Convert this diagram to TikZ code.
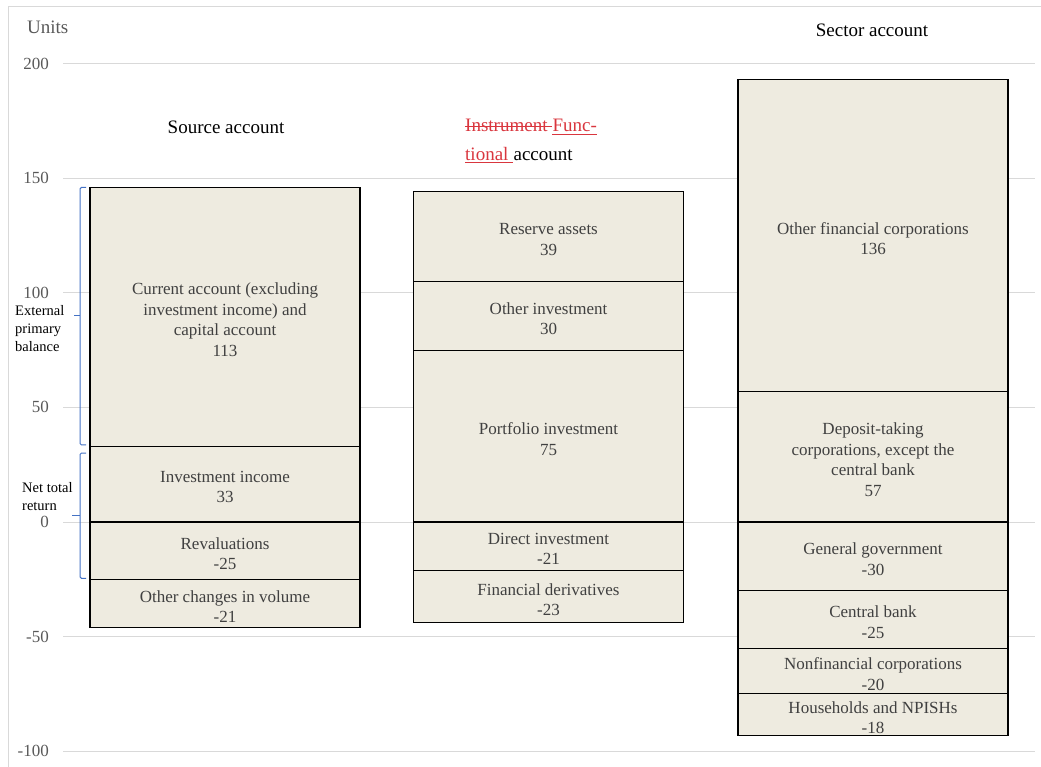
\documentclass[tikz,border=0pt]{standalone}
\usepackage{fontspec}
\setmainfont{Liberation Serif}
\usetikzlibrary{positioning}

\definecolor{segfill}{HTML}{EEEBE0}
\definecolor{segtext}{HTML}{404040}
\definecolor{ticktext}{HTML}{595959}
\definecolor{gridgray}{HTML}{D9D9D9}
\definecolor{bracecol}{HTML}{4472C4}
\definecolor{edred}{HTML}{D9363E}

\newcommand\segfont{\fontsize{17}{20.5}\selectfont}
\newcommand\headfont{\fontsize{19}{28}\selectfont}
\newcommand\sidefont{\fontsize{14.5}{18}\selectfont}

\tikzset{
  seg/.style={fill=segfill, minimum width=270pt, inner sep=0pt,
    outer sep=0pt, minimum height={#1*2.292pt}},
  segtxt/.style={text=segtext, font=\segfont, align=center, inner sep=0pt, yshift=-3pt},
  segline/.style={draw=black, line width=1.1pt},
  gridline/.style={draw=gridgray, line width=0.9pt},
  ticklabel/.style={anchor=east, text=ticktext, font=\segfont, inner sep=0pt},
  header/.style={font=\headfont, text=black, inner sep=0pt},
  redit/.style={header, text=edred},
  redline/.style={draw=edred, line width=0.9pt},
  bracket/.style={draw=bracecol, line width=1pt, rounded corners=1.5pt},
  sidelabel/.style={anchor=west, align=left, font=\sidefont, text=black, inner sep=0pt}
}

\begin{document}
\begin{tikzpicture}[x=1pt, y=2.292pt]
\useasboundingbox (0,-106.89) rectangle (1041,227.75);

% frame and grid
\draw[gridline] (8,-106.89) -- (8,225.1) -- (1041,225.1);
\foreach \v in {-100,-50,...,200} {
  \draw[gridline] (63,\v) -- (1035,\v);
  \node[ticklabel] (t\v) at (49,\v) {\v};
}
\node[header, text=ticktext, anchor=west] (units) at (27,216) {Units};

% source account
\node[header] (srchead) at (226,172.3) {Source account};
\node[seg=113, anchor=north] (curacc) at (225,146) {};
\node[seg=33, below=0pt of curacc] (invinc) {};
\node[seg=25, below=0pt of invinc] (reval) {};
\node[seg=21, below=0pt of reval] (othvol) {};
\node[segtxt] (curacc-t) at (curacc) {Current account (excluding\\investment income) and\\capital account\\113};
\node[segtxt] (invinc-t) at (invinc) {Investment income\\33};
\node[segtxt] (reval-t) at (reval) {Revaluations\\-25};
\node[segtxt] (othvol-t) at (othvol) {Other changes in volume\\-21};

% functional account (tracked change)
\node[redit, anchor=base west] (instr) at (465,170.2) {Instrument\ \mbox{}};
\node[redit, base right=0pt of instr] (func) {Func-};
\node[redit, anchor=base west] (tional) at (465,157.9) {tional\ \mbox{}};
\node[header, base right=0pt of tional] (acct) {account};
\draw[redline] ([yshift=5.5pt]instr.base west) -- ([yshift=5.5pt]instr.base east);
\draw[redline] ([yshift=-2.3pt]func.base west) -- ([yshift=-2.3pt]func.base east);
\draw[redline] ([yshift=-2.3pt]tional.base west) -- ([yshift=-2.3pt]tional.base east);

\node[seg=39, anchor=north] (reserve) at (548.5,144) {};
\node[seg=30, below=0pt of reserve] (othinv) {};
\node[seg=75, below=0pt of othinv] (portf) {};
\node[seg=21, below=0pt of portf] (direct) {};
\node[seg=23, below=0pt of direct] (deriv) {};
\node[segtxt] (reserve-t) at (reserve) {Reserve assets\\39};
\node[segtxt] (othinv-t) at (othinv) {Other investment\\30};
\node[segtxt] (portf-t) at (portf) {Portfolio investment\\75};
\node[segtxt] (direct-t) at (direct) {Direct investment\\-21};
\node[segtxt] (deriv-t) at (deriv) {Financial derivatives\\-23};

% sector account
\node[header] (sechead) at (872,214.7) {Sector account};
\node[seg=136, anchor=north] (ofc) at (873,193) {};
\node[seg=57, below=0pt of ofc] (dtc) {};
\node[seg=30, below=0pt of dtc] (gengov) {};
\node[seg=25, below=0pt of gengov] (cbank) {};
\node[seg=20, below=0pt of cbank] (nfc) {};
\node[seg=18, below=0pt of nfc] (hh) {};
\node[segtxt] (ofc-t) at (ofc) {Other financial corporations\\136};
\node[segtxt] (dtc-t) at (dtc) {Deposit-taking\\corporations, except the\\central bank\\57};
\node[segtxt] (gengov-t) at (gengov) {General government\\-30};
\node[segtxt] (cbank-t) at (cbank) {Central bank\\-25};
\node[segtxt] (nfc-t) at (nfc) {Nonfinancial corporations\\-20};
\node[segtxt] (hh-t) at (hh) {Households and NPISHs\\-18};

% outlines on top of the fills
\foreach \n in {curacc,invinc,reval,othvol,reserve,othinv,portf,direct,deriv,ofc,dtc,gengov,cbank,nfc,hh}
  \draw[segline] (\n.north west) rectangle (\n.south east);

% brackets on the left
\draw[bracket] (86,146) -- (80,146) -- (80,33.6) -- (86,33.6);
\draw[bracket] (80,89.9) -- (74,89.9);
\node[sidelabel] (epb) at (15,84.2) {External\\primary\\balance};
\draw[bracket] (86,30.1) -- (80,30.1) -- (80,-24.6) -- (86,-24.6);
\draw[bracket] (80,3) -- (72,3);
\node[sidelabel] (ntr) at (22,11.3) {Net total\\return};
\end{tikzpicture}
\end{document}
